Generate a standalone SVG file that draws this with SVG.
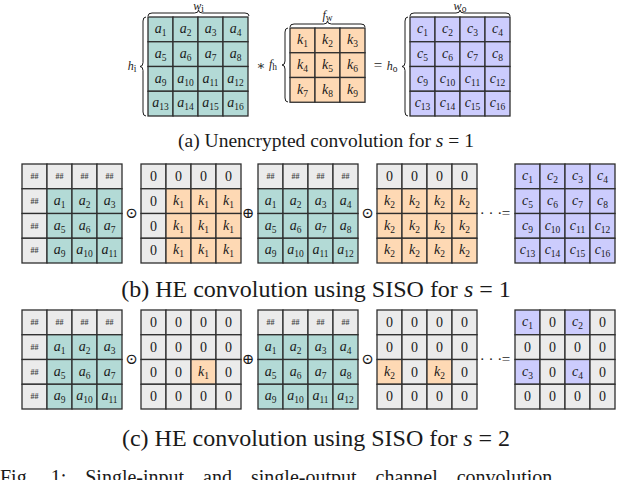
<svg xmlns="http://www.w3.org/2000/svg" width="640" height="480" viewBox="0 0 640 480">
<style>
rect{stroke:#2e2e2e;stroke-width:1.3}
.g{fill:#ebebeb}.t{fill:#b3dad6}.o{fill:#fed9b4}.p{fill:#ccccfd}
text{font-family:"Liberation Serif","DejaVu Serif",serif;fill:#1a1a1a}
.m{font-size:14px;font-style:italic;text-anchor:middle}
.z{font-size:14px;text-anchor:middle}
.h{font-size:8px;text-anchor:middle;fill:#444;font-weight:bold}
.op{font-size:15px;text-anchor:middle}
.cap{font-size:24px;text-anchor:middle}
.lb{font-size:12px;font-style:italic;text-anchor:middle}
.br{fill:none;stroke:#1a1a1a;stroke-width:1}
.s{font-size:9.5px;font-style:normal}
</style>

<!-- Row (a) -->
<g id="A" transform="translate(148,17)">
<rect class="t" x="0" y="0" width="25" height="24.75"/><rect class="t" x="25" y="0" width="25" height="24.75"/><rect class="t" x="50" y="0" width="25" height="24.75"/><rect class="t" x="75" y="0" width="25" height="24.75"/>
<rect class="t" x="0" y="24.75" width="25" height="24.75"/><rect class="t" x="25" y="24.75" width="25" height="24.75"/><rect class="t" x="50" y="24.75" width="25" height="24.75"/><rect class="t" x="75" y="24.75" width="25" height="24.75"/>
<rect class="t" x="0" y="49.5" width="25" height="24.75"/><rect class="t" x="25" y="49.5" width="25" height="24.75"/><rect class="t" x="50" y="49.5" width="25" height="24.75"/><rect class="t" x="75" y="49.5" width="25" height="24.75"/>
<rect class="t" x="0" y="74.25" width="25" height="24.75"/><rect class="t" x="25" y="74.25" width="25" height="24.75"/><rect class="t" x="50" y="74.25" width="25" height="24.75"/><rect class="t" x="75" y="74.25" width="25" height="24.75"/>
<text class="m" x="12.5" y="16">a<tspan class="s" dy="3">1</tspan></text><text class="m" x="37.5" y="16">a<tspan class="s" dy="3">2</tspan></text><text class="m" x="62.5" y="16">a<tspan class="s" dy="3">3</tspan></text><text class="m" x="87.5" y="16">a<tspan class="s" dy="3">4</tspan></text>
<text class="m" x="12.5" y="40.75">a<tspan class="s" dy="3">5</tspan></text><text class="m" x="37.5" y="40.75">a<tspan class="s" dy="3">6</tspan></text><text class="m" x="62.5" y="40.75">a<tspan class="s" dy="3">7</tspan></text><text class="m" x="87.5" y="40.75">a<tspan class="s" dy="3">8</tspan></text>
<text class="m" x="12.5" y="65.5">a<tspan class="s" dy="3">9</tspan></text><text class="m" x="37.5" y="65.5">a<tspan class="s" dy="3">10</tspan></text><text class="m" x="62.5" y="65.5">a<tspan class="s" dy="3">11</tspan></text><text class="m" x="87.5" y="65.5">a<tspan class="s" dy="3">12</tspan></text>
<text class="m" x="12.5" y="90.25">a<tspan class="s" dy="3">13</tspan></text><text class="m" x="37.5" y="90.25">a<tspan class="s" dy="3">14</tspan></text><text class="m" x="62.5" y="90.25">a<tspan class="s" dy="3">15</tspan></text><text class="m" x="87.5" y="90.25">a<tspan class="s" dy="3">16</tspan></text>
</g>
<g id="K" transform="translate(290,28)">
<rect class="o" x="0" y="0" width="25" height="24.75"/><rect class="o" x="25" y="0" width="25" height="24.75"/><rect class="o" x="50" y="0" width="25" height="24.75"/>
<rect class="o" x="0" y="24.75" width="25" height="24.75"/><rect class="o" x="25" y="24.75" width="25" height="24.75"/><rect class="o" x="50" y="24.75" width="25" height="24.75"/>
<rect class="o" x="0" y="49.5" width="25" height="24.75"/><rect class="o" x="25" y="49.5" width="25" height="24.75"/><rect class="o" x="50" y="49.5" width="25" height="24.75"/>
<text class="m" x="12.5" y="16">k<tspan class="s" dy="3">1</tspan></text><text class="m" x="37.5" y="16">k<tspan class="s" dy="3">2</tspan></text><text class="m" x="62.5" y="16">k<tspan class="s" dy="3">3</tspan></text>
<text class="m" x="12.5" y="40.75">k<tspan class="s" dy="3">4</tspan></text><text class="m" x="37.5" y="40.75">k<tspan class="s" dy="3">5</tspan></text><text class="m" x="62.5" y="40.75">k<tspan class="s" dy="3">6</tspan></text>
<text class="m" x="12.5" y="65.5">k<tspan class="s" dy="3">7</tspan></text><text class="m" x="37.5" y="65.5">k<tspan class="s" dy="3">8</tspan></text><text class="m" x="62.5" y="65.5">k<tspan class="s" dy="3">9</tspan></text>
</g>
<g id="C" transform="translate(410,17)">
<rect class="p" x="0" y="0" width="25" height="24.75"/><rect class="p" x="25" y="0" width="25" height="24.75"/><rect class="p" x="50" y="0" width="25" height="24.75"/><rect class="p" x="75" y="0" width="25" height="24.75"/>
<rect class="p" x="0" y="24.75" width="25" height="24.75"/><rect class="p" x="25" y="24.75" width="25" height="24.75"/><rect class="p" x="50" y="24.75" width="25" height="24.75"/><rect class="p" x="75" y="24.75" width="25" height="24.75"/>
<rect class="p" x="0" y="49.5" width="25" height="24.75"/><rect class="p" x="25" y="49.5" width="25" height="24.75"/><rect class="p" x="50" y="49.5" width="25" height="24.75"/><rect class="p" x="75" y="49.5" width="25" height="24.75"/>
<rect class="p" x="0" y="74.25" width="25" height="24.75"/><rect class="p" x="25" y="74.25" width="25" height="24.75"/><rect class="p" x="50" y="74.25" width="25" height="24.75"/><rect class="p" x="75" y="74.25" width="25" height="24.75"/>
<text class="m" x="12.5" y="16">c<tspan class="s" dy="3">1</tspan></text><text class="m" x="37.5" y="16">c<tspan class="s" dy="3">2</tspan></text><text class="m" x="62.5" y="16">c<tspan class="s" dy="3">3</tspan></text><text class="m" x="87.5" y="16">c<tspan class="s" dy="3">4</tspan></text>
<text class="m" x="12.5" y="40.75">c<tspan class="s" dy="3">5</tspan></text><text class="m" x="37.5" y="40.75">c<tspan class="s" dy="3">6</tspan></text><text class="m" x="62.5" y="40.75">c<tspan class="s" dy="3">7</tspan></text><text class="m" x="87.5" y="40.75">c<tspan class="s" dy="3">8</tspan></text>
<text class="m" x="12.5" y="65.5">c<tspan class="s" dy="3">9</tspan></text><text class="m" x="37.5" y="65.5">c<tspan class="s" dy="3">10</tspan></text><text class="m" x="62.5" y="65.5">c<tspan class="s" dy="3">11</tspan></text><text class="m" x="87.5" y="65.5">c<tspan class="s" dy="3">12</tspan></text>
<text class="m" x="12.5" y="90.25">c<tspan class="s" dy="3">13</tspan></text><text class="m" x="37.5" y="90.25">c<tspan class="s" dy="3">14</tspan></text><text class="m" x="62.5" y="90.25">c<tspan class="s" dy="3">15</tspan></text><text class="m" x="87.5" y="90.25">c<tspan class="s" dy="3">16</tspan></text>
</g>
<g id="braces">
<path class="br" d="M148,16 Q148,13 152,13 L194.5,13 Q198.5,13 198.5,10 Q198.5,13 202.5,13 L245,13 Q249,13 249,16"/>
<path class="br" d="M146,17 Q143,17 143,21 L143,62.5 Q143,66.5 140,66.5 Q143,66.5 143,70.5 L143,112 Q143,116 146,116"/>
<path class="br" d="M290,27 Q290,24 294,24 L323.5,24 Q327.5,24 327.5,21 Q327.5,24 331.5,24 L361,24 Q365,24 365,27"/>
<path class="br" d="M288,28 Q285,28 285,32 L285,61 Q285,65 282,65 Q285,65 285,69 L285,98 Q285,102 288,102"/>
<path class="br" d="M410,16 Q410,13 414,13 L456,13 Q460,13 460,10 Q460,13 464,13 L506,13 Q510,13 510,16"/>
<path class="br" d="M408,17 Q405,17 405,21 L405,62.5 Q405,66.5 402,66.5 Q405,66.5 405,70.5 L405,112 Q405,116 408,116"/>
</g>
<text class="lb" x="198.5" y="10">w<tspan class="s" dy="1.5">i</tspan></text>
<text class="lb" x="132" y="70">h<tspan class="s" dy="2">i</tspan></text>
<text class="lb" x="327.5" y="19">f<tspan class="s" dy="2">w</tspan></text>
<text class="op" x="261" y="70" style="font-size:13px">∗</text>
<text class="lb" x="273" y="68">f<tspan class="s" dy="2">h</tspan></text>
<text class="op" x="378" y="70">=</text>
<text class="lb" x="392" y="70">h<tspan class="s" dy="2">o</tspan></text>
<text class="lb" x="460" y="10">w<tspan class="s" dy="1.5">o</tspan></text>
<text class="cap" x="326" y="147" style="font-size:19.5px">(a) Unencrypted convolution for <tspan font-style="italic">s</tspan> = 1</text>

<!-- Row (b) -->
<g id="B1" transform="translate(22,164)">
<rect class="g" x="0" y="0" width="25" height="24.75"/><rect class="g" x="25" y="0" width="25" height="24.75"/><rect class="g" x="50" y="0" width="25" height="24.75"/><rect class="g" x="75" y="0" width="25" height="24.75"/>
<rect class="g" x="0" y="24.75" width="25" height="24.75"/><rect class="t" x="25" y="24.75" width="25" height="24.75"/><rect class="t" x="50" y="24.75" width="25" height="24.75"/><rect class="t" x="75" y="24.75" width="25" height="24.75"/>
<rect class="g" x="0" y="49.5" width="25" height="24.75"/><rect class="t" x="25" y="49.5" width="25" height="24.75"/><rect class="t" x="50" y="49.5" width="25" height="24.75"/><rect class="t" x="75" y="49.5" width="25" height="24.75"/>
<rect class="g" x="0" y="74.25" width="25" height="24.75"/><rect class="t" x="25" y="74.25" width="25" height="24.75"/><rect class="t" x="50" y="74.25" width="25" height="24.75"/><rect class="t" x="75" y="74.25" width="25" height="24.75"/>
<text class="h" x="12.5" y="15">##</text><text class="h" x="37.5" y="15">##</text><text class="h" x="62.5" y="15">##</text><text class="h" x="87.5" y="15">##</text>
<text class="h" x="12.5" y="39.75">##</text><text class="m" x="37.5" y="40.75">a<tspan class="s" dy="3">1</tspan></text><text class="m" x="62.5" y="40.75">a<tspan class="s" dy="3">2</tspan></text><text class="m" x="87.5" y="40.75">a<tspan class="s" dy="3">3</tspan></text>
<text class="h" x="12.5" y="64.5">##</text><text class="m" x="37.5" y="65.5">a<tspan class="s" dy="3">5</tspan></text><text class="m" x="62.5" y="65.5">a<tspan class="s" dy="3">6</tspan></text><text class="m" x="87.5" y="65.5">a<tspan class="s" dy="3">7</tspan></text>
<text class="h" x="12.5" y="89.25">##</text><text class="m" x="37.5" y="90.25">a<tspan class="s" dy="3">9</tspan></text><text class="m" x="62.5" y="90.25">a<tspan class="s" dy="3">10</tspan></text><text class="m" x="87.5" y="90.25">a<tspan class="s" dy="3">11</tspan></text>
</g>
<g id="B2" transform="translate(141,164)">
<rect class="g" x="0" y="0" width="25" height="24.75"/><rect class="g" x="25" y="0" width="25" height="24.75"/><rect class="g" x="50" y="0" width="25" height="24.75"/><rect class="g" x="75" y="0" width="25" height="24.75"/>
<rect class="g" x="0" y="24.75" width="25" height="24.75"/><rect class="o" x="25" y="24.75" width="25" height="24.75"/><rect class="o" x="50" y="24.75" width="25" height="24.75"/><rect class="o" x="75" y="24.75" width="25" height="24.75"/>
<rect class="g" x="0" y="49.5" width="25" height="24.75"/><rect class="o" x="25" y="49.5" width="25" height="24.75"/><rect class="o" x="50" y="49.5" width="25" height="24.75"/><rect class="o" x="75" y="49.5" width="25" height="24.75"/>
<rect class="g" x="0" y="74.25" width="25" height="24.75"/><rect class="o" x="25" y="74.25" width="25" height="24.75"/><rect class="o" x="50" y="74.25" width="25" height="24.75"/><rect class="o" x="75" y="74.25" width="25" height="24.75"/>
<text class="z" x="12.5" y="17">0</text><text class="z" x="37.5" y="17">0</text><text class="z" x="62.5" y="17">0</text><text class="z" x="87.5" y="17">0</text>
<text class="z" x="12.5" y="41.75">0</text><text class="m" x="37.5" y="40.75">k<tspan class="s" dy="3">1</tspan></text><text class="m" x="62.5" y="40.75">k<tspan class="s" dy="3">1</tspan></text><text class="m" x="87.5" y="40.75">k<tspan class="s" dy="3">1</tspan></text>
<text class="z" x="12.5" y="66.5">0</text><text class="m" x="37.5" y="65.5">k<tspan class="s" dy="3">1</tspan></text><text class="m" x="62.5" y="65.5">k<tspan class="s" dy="3">1</tspan></text><text class="m" x="87.5" y="65.5">k<tspan class="s" dy="3">1</tspan></text>
<text class="z" x="12.5" y="91.25">0</text><text class="m" x="37.5" y="90.25">k<tspan class="s" dy="3">1</tspan></text><text class="m" x="62.5" y="90.25">k<tspan class="s" dy="3">1</tspan></text><text class="m" x="87.5" y="90.25">k<tspan class="s" dy="3">1</tspan></text>
</g>
<g id="B3" transform="translate(258,164)">
<rect class="g" x="0" y="0" width="25" height="24.75"/><rect class="g" x="25" y="0" width="25" height="24.75"/><rect class="g" x="50" y="0" width="25" height="24.75"/><rect class="g" x="75" y="0" width="25" height="24.75"/>
<rect class="t" x="0" y="24.75" width="25" height="24.75"/><rect class="t" x="25" y="24.75" width="25" height="24.75"/><rect class="t" x="50" y="24.75" width="25" height="24.75"/><rect class="t" x="75" y="24.75" width="25" height="24.75"/>
<rect class="t" x="0" y="49.5" width="25" height="24.75"/><rect class="t" x="25" y="49.5" width="25" height="24.75"/><rect class="t" x="50" y="49.5" width="25" height="24.75"/><rect class="t" x="75" y="49.5" width="25" height="24.75"/>
<rect class="t" x="0" y="74.25" width="25" height="24.75"/><rect class="t" x="25" y="74.25" width="25" height="24.75"/><rect class="t" x="50" y="74.25" width="25" height="24.75"/><rect class="t" x="75" y="74.25" width="25" height="24.75"/>
<text class="h" x="12.5" y="15">##</text><text class="h" x="37.5" y="15">##</text><text class="h" x="62.5" y="15">##</text><text class="h" x="87.5" y="15">##</text>
<text class="m" x="12.5" y="40.75">a<tspan class="s" dy="3">1</tspan></text><text class="m" x="37.5" y="40.75">a<tspan class="s" dy="3">2</tspan></text><text class="m" x="62.5" y="40.75">a<tspan class="s" dy="3">3</tspan></text><text class="m" x="87.5" y="40.75">a<tspan class="s" dy="3">4</tspan></text>
<text class="m" x="12.5" y="65.5">a<tspan class="s" dy="3">5</tspan></text><text class="m" x="37.5" y="65.5">a<tspan class="s" dy="3">6</tspan></text><text class="m" x="62.5" y="65.5">a<tspan class="s" dy="3">7</tspan></text><text class="m" x="87.5" y="65.5">a<tspan class="s" dy="3">8</tspan></text>
<text class="m" x="12.5" y="90.25">a<tspan class="s" dy="3">9</tspan></text><text class="m" x="37.5" y="90.25">a<tspan class="s" dy="3">10</tspan></text><text class="m" x="62.5" y="90.25">a<tspan class="s" dy="3">11</tspan></text><text class="m" x="87.5" y="90.25">a<tspan class="s" dy="3">12</tspan></text>
</g>
<g id="B4" transform="translate(377,164)">
<rect class="g" x="0" y="0" width="25" height="24.75"/><rect class="g" x="25" y="0" width="25" height="24.75"/><rect class="g" x="50" y="0" width="25" height="24.75"/><rect class="g" x="75" y="0" width="25" height="24.75"/>
<rect class="o" x="0" y="24.75" width="25" height="24.75"/><rect class="o" x="25" y="24.75" width="25" height="24.75"/><rect class="o" x="50" y="24.75" width="25" height="24.75"/><rect class="o" x="75" y="24.75" width="25" height="24.75"/>
<rect class="o" x="0" y="49.5" width="25" height="24.75"/><rect class="o" x="25" y="49.5" width="25" height="24.75"/><rect class="o" x="50" y="49.5" width="25" height="24.75"/><rect class="o" x="75" y="49.5" width="25" height="24.75"/>
<rect class="o" x="0" y="74.25" width="25" height="24.75"/><rect class="o" x="25" y="74.25" width="25" height="24.75"/><rect class="o" x="50" y="74.25" width="25" height="24.75"/><rect class="o" x="75" y="74.25" width="25" height="24.75"/>
<text class="z" x="12.5" y="17">0</text><text class="z" x="37.5" y="17">0</text><text class="z" x="62.5" y="17">0</text><text class="z" x="87.5" y="17">0</text>
<text class="m" x="12.5" y="40.75">k<tspan class="s" dy="3">2</tspan></text><text class="m" x="37.5" y="40.75">k<tspan class="s" dy="3">2</tspan></text><text class="m" x="62.5" y="40.75">k<tspan class="s" dy="3">2</tspan></text><text class="m" x="87.5" y="40.75">k<tspan class="s" dy="3">2</tspan></text>
<text class="m" x="12.5" y="65.5">k<tspan class="s" dy="3">2</tspan></text><text class="m" x="37.5" y="65.5">k<tspan class="s" dy="3">2</tspan></text><text class="m" x="62.5" y="65.5">k<tspan class="s" dy="3">2</tspan></text><text class="m" x="87.5" y="65.5">k<tspan class="s" dy="3">2</tspan></text>
<text class="m" x="12.5" y="90.25">k<tspan class="s" dy="3">2</tspan></text><text class="m" x="37.5" y="90.25">k<tspan class="s" dy="3">2</tspan></text><text class="m" x="62.5" y="90.25">k<tspan class="s" dy="3">2</tspan></text><text class="m" x="87.5" y="90.25">k<tspan class="s" dy="3">2</tspan></text>
</g>
<g id="B5" transform="translate(515,164)">
<rect class="p" x="0" y="0" width="25" height="24.75"/><rect class="p" x="25" y="0" width="25" height="24.75"/><rect class="p" x="50" y="0" width="25" height="24.75"/><rect class="p" x="75" y="0" width="25" height="24.75"/>
<rect class="p" x="0" y="24.75" width="25" height="24.75"/><rect class="p" x="25" y="24.75" width="25" height="24.75"/><rect class="p" x="50" y="24.75" width="25" height="24.75"/><rect class="p" x="75" y="24.75" width="25" height="24.75"/>
<rect class="p" x="0" y="49.5" width="25" height="24.75"/><rect class="p" x="25" y="49.5" width="25" height="24.75"/><rect class="p" x="50" y="49.5" width="25" height="24.75"/><rect class="p" x="75" y="49.5" width="25" height="24.75"/>
<rect class="p" x="0" y="74.25" width="25" height="24.75"/><rect class="p" x="25" y="74.25" width="25" height="24.75"/><rect class="p" x="50" y="74.25" width="25" height="24.75"/><rect class="p" x="75" y="74.25" width="25" height="24.75"/>
<text class="m" x="12.5" y="16">c<tspan class="s" dy="3">1</tspan></text><text class="m" x="37.5" y="16">c<tspan class="s" dy="3">2</tspan></text><text class="m" x="62.5" y="16">c<tspan class="s" dy="3">3</tspan></text><text class="m" x="87.5" y="16">c<tspan class="s" dy="3">4</tspan></text>
<text class="m" x="12.5" y="40.75">c<tspan class="s" dy="3">5</tspan></text><text class="m" x="37.5" y="40.75">c<tspan class="s" dy="3">6</tspan></text><text class="m" x="62.5" y="40.75">c<tspan class="s" dy="3">7</tspan></text><text class="m" x="87.5" y="40.75">c<tspan class="s" dy="3">8</tspan></text>
<text class="m" x="12.5" y="65.5">c<tspan class="s" dy="3">9</tspan></text><text class="m" x="37.5" y="65.5">c<tspan class="s" dy="3">10</tspan></text><text class="m" x="62.5" y="65.5">c<tspan class="s" dy="3">11</tspan></text><text class="m" x="87.5" y="65.5">c<tspan class="s" dy="3">12</tspan></text>
<text class="m" x="12.5" y="90.25">c<tspan class="s" dy="3">13</tspan></text><text class="m" x="37.5" y="90.25">c<tspan class="s" dy="3">14</tspan></text><text class="m" x="62.5" y="90.25">c<tspan class="s" dy="3">15</tspan></text><text class="m" x="87.5" y="90.25">c<tspan class="s" dy="3">16</tspan></text>
</g>
<g id="ops-b">
<text class="op" x="131.5" y="218">⊙</text>
<text class="op" x="248" y="218">⊕</text>
<text class="op" x="367.5" y="218">⊙</text>
<text class="op" x="491" y="218">· · ·</text>
<text class="op" x="506" y="218">=</text>
</g>
<text class="cap" x="316" y="297">(b) HE convolution using SISO for <tspan font-style="italic">s</tspan> = 1</text>

<!-- Row (c) -->
<g id="C1" transform="translate(22,310)">
<rect class="g" x="0" y="0" width="25" height="24.75"/><rect class="g" x="25" y="0" width="25" height="24.75"/><rect class="g" x="50" y="0" width="25" height="24.75"/><rect class="g" x="75" y="0" width="25" height="24.75"/>
<rect class="g" x="0" y="24.75" width="25" height="24.75"/><rect class="t" x="25" y="24.75" width="25" height="24.75"/><rect class="t" x="50" y="24.75" width="25" height="24.75"/><rect class="t" x="75" y="24.75" width="25" height="24.75"/>
<rect class="g" x="0" y="49.5" width="25" height="24.75"/><rect class="t" x="25" y="49.5" width="25" height="24.75"/><rect class="t" x="50" y="49.5" width="25" height="24.75"/><rect class="t" x="75" y="49.5" width="25" height="24.75"/>
<rect class="g" x="0" y="74.25" width="25" height="24.75"/><rect class="t" x="25" y="74.25" width="25" height="24.75"/><rect class="t" x="50" y="74.25" width="25" height="24.75"/><rect class="t" x="75" y="74.25" width="25" height="24.75"/>
<text class="h" x="12.5" y="15">##</text><text class="h" x="37.5" y="15">##</text><text class="h" x="62.5" y="15">##</text><text class="h" x="87.5" y="15">##</text>
<text class="h" x="12.5" y="39.75">##</text><text class="m" x="37.5" y="40.75">a<tspan class="s" dy="3">1</tspan></text><text class="m" x="62.5" y="40.75">a<tspan class="s" dy="3">2</tspan></text><text class="m" x="87.5" y="40.75">a<tspan class="s" dy="3">3</tspan></text>
<text class="h" x="12.5" y="64.5">##</text><text class="m" x="37.5" y="65.5">a<tspan class="s" dy="3">5</tspan></text><text class="m" x="62.5" y="65.5">a<tspan class="s" dy="3">6</tspan></text><text class="m" x="87.5" y="65.5">a<tspan class="s" dy="3">7</tspan></text>
<text class="h" x="12.5" y="89.25">##</text><text class="m" x="37.5" y="90.25">a<tspan class="s" dy="3">9</tspan></text><text class="m" x="62.5" y="90.25">a<tspan class="s" dy="3">10</tspan></text><text class="m" x="87.5" y="90.25">a<tspan class="s" dy="3">11</tspan></text>
</g>
<g id="C2" transform="translate(141,310)">
<rect class="g" x="0" y="0" width="25" height="24.75"/><rect class="g" x="25" y="0" width="25" height="24.75"/><rect class="g" x="50" y="0" width="25" height="24.75"/><rect class="g" x="75" y="0" width="25" height="24.75"/>
<rect class="g" x="0" y="24.75" width="25" height="24.75"/><rect class="g" x="25" y="24.75" width="25" height="24.75"/><rect class="g" x="50" y="24.75" width="25" height="24.75"/><rect class="g" x="75" y="24.75" width="25" height="24.75"/>
<rect class="g" x="0" y="49.5" width="25" height="24.75"/><rect class="g" x="25" y="49.5" width="25" height="24.75"/><rect class="o" x="50" y="49.5" width="25" height="24.75"/><rect class="g" x="75" y="49.5" width="25" height="24.75"/>
<rect class="g" x="0" y="74.25" width="25" height="24.75"/><rect class="g" x="25" y="74.25" width="25" height="24.75"/><rect class="g" x="50" y="74.25" width="25" height="24.75"/><rect class="g" x="75" y="74.25" width="25" height="24.75"/>
<text class="z" x="12.5" y="17">0</text><text class="z" x="37.5" y="17">0</text><text class="z" x="62.5" y="17">0</text><text class="z" x="87.5" y="17">0</text>
<text class="z" x="12.5" y="41.75">0</text><text class="z" x="37.5" y="41.75">0</text><text class="z" x="62.5" y="41.75">0</text><text class="z" x="87.5" y="41.75">0</text>
<text class="z" x="12.5" y="66.5">0</text><text class="z" x="37.5" y="66.5">0</text><text class="m" x="62.5" y="65.5">k<tspan class="s" dy="3">1</tspan></text><text class="z" x="87.5" y="66.5">0</text>
<text class="z" x="12.5" y="91.25">0</text><text class="z" x="37.5" y="91.25">0</text><text class="z" x="62.5" y="91.25">0</text><text class="z" x="87.5" y="91.25">0</text>
</g>
<g id="C3" transform="translate(258,310)">
<rect class="g" x="0" y="0" width="25" height="24.75"/><rect class="g" x="25" y="0" width="25" height="24.75"/><rect class="g" x="50" y="0" width="25" height="24.75"/><rect class="g" x="75" y="0" width="25" height="24.75"/>
<rect class="t" x="0" y="24.75" width="25" height="24.75"/><rect class="t" x="25" y="24.75" width="25" height="24.75"/><rect class="t" x="50" y="24.75" width="25" height="24.75"/><rect class="t" x="75" y="24.75" width="25" height="24.75"/>
<rect class="t" x="0" y="49.5" width="25" height="24.75"/><rect class="t" x="25" y="49.5" width="25" height="24.75"/><rect class="t" x="50" y="49.5" width="25" height="24.75"/><rect class="t" x="75" y="49.5" width="25" height="24.75"/>
<rect class="t" x="0" y="74.25" width="25" height="24.75"/><rect class="t" x="25" y="74.25" width="25" height="24.75"/><rect class="t" x="50" y="74.25" width="25" height="24.75"/><rect class="t" x="75" y="74.25" width="25" height="24.75"/>
<text class="h" x="12.5" y="15">##</text><text class="h" x="37.5" y="15">##</text><text class="h" x="62.5" y="15">##</text><text class="h" x="87.5" y="15">##</text>
<text class="m" x="12.5" y="40.75">a<tspan class="s" dy="3">1</tspan></text><text class="m" x="37.5" y="40.75">a<tspan class="s" dy="3">2</tspan></text><text class="m" x="62.5" y="40.75">a<tspan class="s" dy="3">3</tspan></text><text class="m" x="87.5" y="40.75">a<tspan class="s" dy="3">4</tspan></text>
<text class="m" x="12.5" y="65.5">a<tspan class="s" dy="3">5</tspan></text><text class="m" x="37.5" y="65.5">a<tspan class="s" dy="3">6</tspan></text><text class="m" x="62.5" y="65.5">a<tspan class="s" dy="3">7</tspan></text><text class="m" x="87.5" y="65.5">a<tspan class="s" dy="3">8</tspan></text>
<text class="m" x="12.5" y="90.25">a<tspan class="s" dy="3">9</tspan></text><text class="m" x="37.5" y="90.25">a<tspan class="s" dy="3">10</tspan></text><text class="m" x="62.5" y="90.25">a<tspan class="s" dy="3">11</tspan></text><text class="m" x="87.5" y="90.25">a<tspan class="s" dy="3">12</tspan></text>
</g>
<g id="C4" transform="translate(377,310)">
<rect class="g" x="0" y="0" width="25" height="24.75"/><rect class="g" x="25" y="0" width="25" height="24.75"/><rect class="g" x="50" y="0" width="25" height="24.75"/><rect class="g" x="75" y="0" width="25" height="24.75"/>
<rect class="g" x="0" y="24.75" width="25" height="24.75"/><rect class="g" x="25" y="24.75" width="25" height="24.75"/><rect class="g" x="50" y="24.75" width="25" height="24.75"/><rect class="g" x="75" y="24.75" width="25" height="24.75"/>
<rect class="o" x="0" y="49.5" width="25" height="24.75"/><rect class="g" x="25" y="49.5" width="25" height="24.75"/><rect class="o" x="50" y="49.5" width="25" height="24.75"/><rect class="g" x="75" y="49.5" width="25" height="24.75"/>
<rect class="g" x="0" y="74.25" width="25" height="24.75"/><rect class="g" x="25" y="74.25" width="25" height="24.75"/><rect class="g" x="50" y="74.25" width="25" height="24.75"/><rect class="g" x="75" y="74.25" width="25" height="24.75"/>
<text class="z" x="12.5" y="17">0</text><text class="z" x="37.5" y="17">0</text><text class="z" x="62.5" y="17">0</text><text class="z" x="87.5" y="17">0</text>
<text class="z" x="12.5" y="41.75">0</text><text class="z" x="37.5" y="41.75">0</text><text class="z" x="62.5" y="41.75">0</text><text class="z" x="87.5" y="41.75">0</text>
<text class="m" x="12.5" y="65.5">k<tspan class="s" dy="3">2</tspan></text><text class="z" x="37.5" y="66.5">0</text><text class="m" x="62.5" y="65.5">k<tspan class="s" dy="3">2</tspan></text><text class="z" x="87.5" y="66.5">0</text>
<text class="z" x="12.5" y="91.25">0</text><text class="z" x="37.5" y="91.25">0</text><text class="z" x="62.5" y="91.25">0</text><text class="z" x="87.5" y="91.25">0</text>
</g>
<g id="C5" transform="translate(515,310)">
<rect class="p" x="0" y="0" width="25" height="24.75"/><rect class="g" x="25" y="0" width="25" height="24.75"/><rect class="p" x="50" y="0" width="25" height="24.75"/><rect class="g" x="75" y="0" width="25" height="24.75"/>
<rect class="g" x="0" y="24.75" width="25" height="24.75"/><rect class="g" x="25" y="24.75" width="25" height="24.75"/><rect class="g" x="50" y="24.75" width="25" height="24.75"/><rect class="g" x="75" y="24.75" width="25" height="24.75"/>
<rect class="p" x="0" y="49.5" width="25" height="24.75"/><rect class="g" x="25" y="49.5" width="25" height="24.75"/><rect class="p" x="50" y="49.5" width="25" height="24.75"/><rect class="g" x="75" y="49.5" width="25" height="24.75"/>
<rect class="g" x="0" y="74.25" width="25" height="24.75"/><rect class="g" x="25" y="74.25" width="25" height="24.75"/><rect class="g" x="50" y="74.25" width="25" height="24.75"/><rect class="g" x="75" y="74.25" width="25" height="24.75"/>
<text class="m" x="12.5" y="16">c<tspan class="s" dy="3">1</tspan></text><text class="z" x="37.5" y="17">0</text><text class="m" x="62.5" y="16">c<tspan class="s" dy="3">2</tspan></text><text class="z" x="87.5" y="17">0</text>
<text class="z" x="12.5" y="41.75">0</text><text class="z" x="37.5" y="41.75">0</text><text class="z" x="62.5" y="41.75">0</text><text class="z" x="87.5" y="41.75">0</text>
<text class="m" x="12.5" y="65.5">c<tspan class="s" dy="3">3</tspan></text><text class="z" x="37.5" y="66.5">0</text><text class="m" x="62.5" y="65.5">c<tspan class="s" dy="3">4</tspan></text><text class="z" x="87.5" y="66.5">0</text>
<text class="z" x="12.5" y="91.25">0</text><text class="z" x="37.5" y="91.25">0</text><text class="z" x="62.5" y="91.25">0</text><text class="z" x="87.5" y="91.25">0</text>
</g>
<g id="ops-c">
<text class="op" x="131.5" y="364">⊙</text>
<text class="op" x="248" y="364">⊕</text>
<text class="op" x="367.5" y="364">⊙</text>
<text class="op" x="491" y="364">· · ·</text>
<text class="op" x="506" y="364">=</text>
</g>
<text class="cap" x="316" y="446">(c) HE convolution using SISO for <tspan font-style="italic">s</tspan> = 2</text>
<text style="font-size:20px;word-spacing:14px" x="0" y="484">Fig. 1: Single-input and single-output channel convolution</text>
</svg>
